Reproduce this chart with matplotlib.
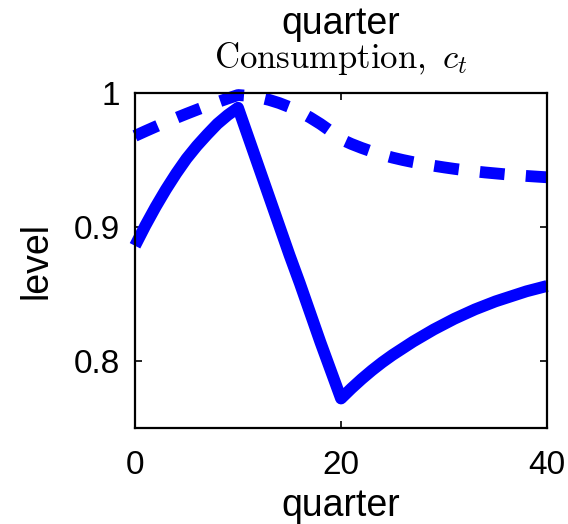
import numpy as np
import matplotlib.pyplot as plt

plt.rcParams['font.family'] = ['Liberation Sans', 'DejaVu Sans']
plt.rcParams['mathtext.fontset'] = 'cm'

quarters = list(range(41))
# consumption path, solid line
c_solid = [0.886, 0.901, 0.915, 0.928, 0.940, 0.951, 0.9605, 0.969, 0.977, 0.9835,
           0.989, 0.967, 0.945, 0.923, 0.901, 0.879, 0.858, 0.836, 0.814, 0.793,
           0.772, 0.7795, 0.7865, 0.793, 0.799, 0.8045, 0.8095, 0.8145, 0.819, 0.8235,
           0.8275, 0.8315, 0.835, 0.8385, 0.8415, 0.8445, 0.847, 0.8495, 0.852, 0.854,
           0.856]
# consumption path, dashed line
c_dashed = [0.968, 0.9715, 0.9749, 0.9782, 0.9814, 0.9845, 0.9875, 0.9904, 0.9932, 0.9959,
            0.9985, 0.9979, 0.9967, 0.9949, 0.9925, 0.9895, 0.9859, 0.9817, 0.9769, 0.9715,
            0.9655, 0.9620, 0.9590, 0.9563, 0.9539, 0.9518, 0.9500, 0.9484, 0.9470, 0.9457,
            0.9445, 0.9434, 0.9424, 0.9415, 0.9407, 0.9400, 0.9393, 0.9387, 0.9381, 0.9376,
            0.9371]
xticks = [0, 20, 40]
yticks = [0.8, 0.9, 1.0]
yticklabels = ['0.8', '0.9', '1']

fig = plt.figure(figsize=(5.68, 5.24), dpi=100)
ax = fig.add_axes([0.2377, 0.1832, 0.7254, 0.6393])

ax.plot(quarters, c_solid, color='#0000ff', lw=8.5, solid_capstyle='butt',
        solid_joinstyle='round', clip_on=False)
ax.plot(quarters, c_dashed, color='#0000ff', lw=8.5, dashes=(2.1, 1.8),
        dash_capstyle='butt', dash_joinstyle='round', clip_on=False)

ax.set_xlim(0, 40)
ax.set_ylim(0.75, 1.0)
ax.set_xticks(xticks)
ax.set_yticks(yticks)
ax.set_yticklabels(yticklabels)
ax.tick_params(direction='in', length=5, width=1.2, top=True, right=True,
               labelsize=24)
ax.tick_params(axis='x', pad=16)
ax.tick_params(axis='y', pad=11)
for s in ax.spines.values():
    s.set_linewidth(1.6)

ax.set_xlabel('quarter', fontsize=27, labelpad=5)
ax.set_ylabel('level', fontsize=27, labelpad=14)
ax.text(0.5, 1.104, r'$\mathrm{Consumption,}\ c_t$', transform=ax.transAxes,
        ha='center', va='center', fontsize=25)
ax.text(0.5, 1.205, 'quarter', transform=ax.transAxes, ha='center',
        va='center', fontsize=27)

fig.savefig('out.png', dpi=100)
